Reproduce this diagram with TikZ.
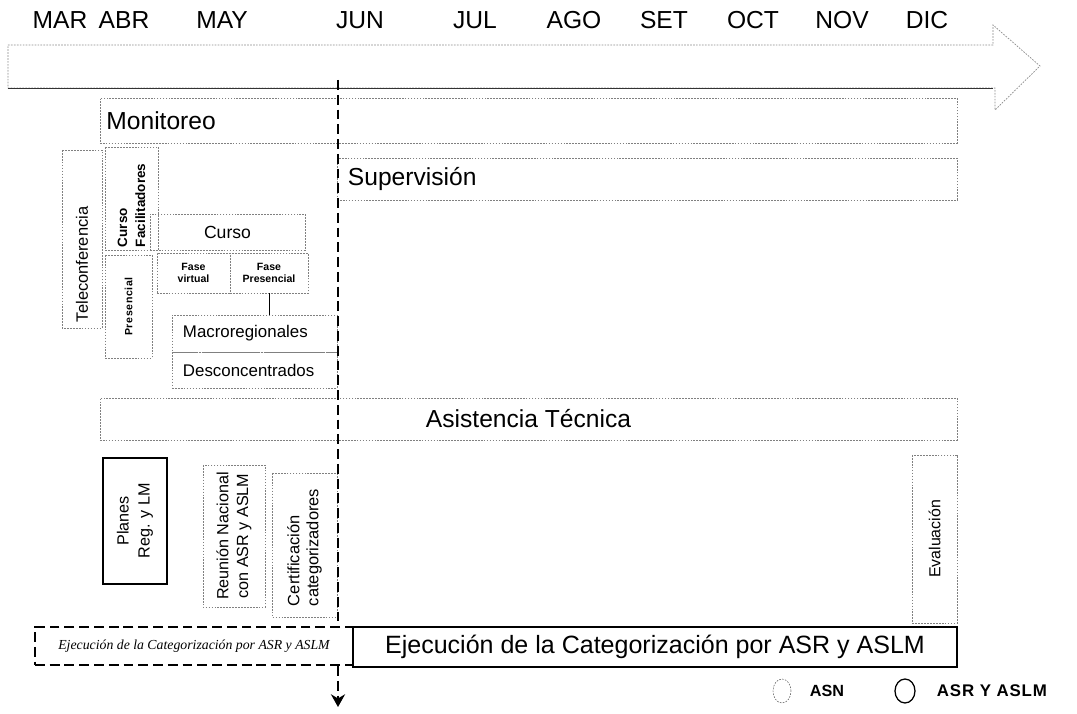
\documentclass[tikz,border=0pt]{standalone}
\usepackage{fontspec}
\setmainfont{Liberation Sans}
\newfontfamily\serifit{Liberation Serif}
\usetikzlibrary{arrows.meta}
\usetikzlibrary{shapes.geometric}

\begin{document}
\begin{tikzpicture}[x=0.025cm, y=-0.025cm]
\tikzstyle{monthStyle} = [font=\fontsize{17.5}{20}\selectfont, inner sep=0pt]
\tikzstyle{dotBox} = [draw=black!50, dash pattern=on 1.2pt off 0.9pt, line width=0.5pt, inner sep=0pt]
\tikzstyle{solidBox} = [draw, line width=1.2pt, inner sep=0pt]
\tikzstyle{cutLine} = [line width=1.6pt, dash pattern=on 7pt off 3.5pt]
\tikzstyle{bigText} = [font=\fontsize{17.5}{20}\selectfont]
\tikzstyle{smallBold} = [font=\bfseries\fontsize{7.5}{9}\selectfont, align=center]
\useasboundingbox (0,0) rectangle (1077,714);

% meses
\foreach \m/\x in {MAR/60, ABR/124, MAY/222, JUN/360, JUL/475, AGO/574, SET/664, OCT/753, NOV/842, DIC/927}
  \node[monthStyle] (m\m) at (\x,20) {\m};

% flecha del tiempo
\draw[draw=black!45, dash pattern=on 1.2pt off 0.9pt, line width=0.5pt]
  (8,45) -- (993,45) -- (993,25) -- (1040,66) -- (995,110) -- (995,88) -- (8,88) -- cycle;
\draw[black!80, line width=0.7pt] (8,88) -- (993,88);

% franjas largas
\node[dotBox, bigText, minimum width=21.425cm, minimum height=1.125cm, text width=21.1cm, align=left] (monit) at (528.5,120.5) {Monitoreo};
\node[dotBox, bigText, minimum width=15.5cm, minimum height=1.05cm, text width=14.95cm, align=left] (superv) at (647,179) {Supervisión};
\node[dotBox, bigText, minimum width=21.425cm, minimum height=1.05cm] (asist) at (528.5,419) {Asistencia Técnica};

% capacitacion
\node[dotBox, rotate=90, minimum width=4.45cm, minimum height=1cm, text width=4.15cm, align=left, font=\fontsize{11.7}{14}\selectfont] (telecon) at (82,239) {Teleconferencia};
\node[dotBox, rotate=90, minimum width=2.575cm, minimum height=1.325cm, text width=2.425cm, align=left, font=\bfseries\fontsize{9.6}{12.8}\selectfont] (cursoFac) at (131.5,198.5) {Curso\\Facilitadores};
\node[dotBox, minimum width=3.875cm, minimum height=0.9cm, font=\fontsize{12.5}{15}\selectfont] (curso) at (227.5,232) {Curso};
\node[dotBox, rotate=90, minimum width=2.575cm, minimum height=1.175cm, font=\bfseries\fontsize{7.5}{9}\addfontfeatures{LetterSpace=6}\selectfont] (presen) at (128.5,306.5) {Presencial};
\node[dotBox, smallBold, minimum width=1.825cm, minimum height=1cm] (faseVirt) at (193.5,273) {Fase\\virtual};
\node[dotBox, smallBold, minimum width=1.95cm, minimum height=1cm] (fasePres) at (269,273) {Fase\\Presencial};
\node[dotBox, minimum width=4.125cm, minimum height=0.925cm, text width=3.575cm, align=left, font=\fontsize{12}{14}\selectfont] (macro) at (254.5,333.5) {Macroregionales};
\node[dotBox, minimum width=4.125cm, minimum height=0.9cm, text width=3.575cm, align=left, font=\fontsize{12}{14}\selectfont] (descon) at (254.5,370) {Desconcentrados};
\draw (fasePres.south) -- (fasePres.south |- macro.north);

% hitos
\node[solidBox, rotate=90, minimum width=3.15cm, minimum height=1.6cm, align=center, font=\fontsize{11.5}{15}\selectfont] (planes) at (135,521) {Planes\\Reg. y LM};
\node[dotBox, rotate=90, minimum width=3.55cm, minimum height=1.55cm, align=center, font=\fontsize{11.5}{14}\selectfont] (reunion) at (234,536) {Reunión Nacional\\con ASR y ASLM};
\node[dotBox, rotate=90, minimum width=3.6cm, minimum height=1.625cm, text width=3.05cm, align=left, font=\fontsize{11.7}{13.5}\selectfont] (certif) at (304.5,545) {Certificación\\categorizadores};
\node[dotBox, rotate=90, minimum width=4.2cm, minimum height=1.125cm, font=\fontsize{11.3}{14}\selectfont] (evalua) at (934.5,539) {Evaluación};

% ejecucion
\node[draw, cutLine, inner sep=0pt, minimum width=7.95cm, minimum height=0.95cm, font=\serifit\itshape\fontsize{9.8}{12}\selectfont] (ejecA) at (194,646) {Ejecución de la Categorización por ASR y ASLM};
\node[solidBox, minimum width=15.1cm, minimum height=1cm, font=\fontsize{17.8}{20}\selectfont] (ejecB) at (655,647) {Ejecución de la Categorización por ASR y ASLM};

% corte a junio
\coordinate (junTop) at (338,80);
\coordinate (junEnd) at (338,707);
\draw[cutLine] (junTop) -- (junTop |- ejecA.north);
\draw[cutLine, -{Stealth[length=9pt, width=10pt]}] (ejecA.south -| junEnd) -- (junEnd);

% leyenda
\node[ellipse, draw=black!60, dash pattern=on 1.2pt off 0.9pt, minimum width=0.45cm, minimum height=0.6cm, inner sep=0pt] (asnMark) at (782,691) {};
\node[anchor=west, font=\bfseries\fontsize{11.5}{14}\selectfont] (asnText) at (805,691) {ASN};
\node[ellipse, draw, line width=0.9pt, minimum width=0.5cm, minimum height=0.6cm, inner sep=0pt] (asrMark) at (905,691) {};
\node[anchor=west, font=\bfseries\fontsize{12}{14}\addfontfeatures{LetterSpace=5}\selectfont] (asrText) at (932,691) {ASR Y ASLM};
\end{tikzpicture}
\end{document}
